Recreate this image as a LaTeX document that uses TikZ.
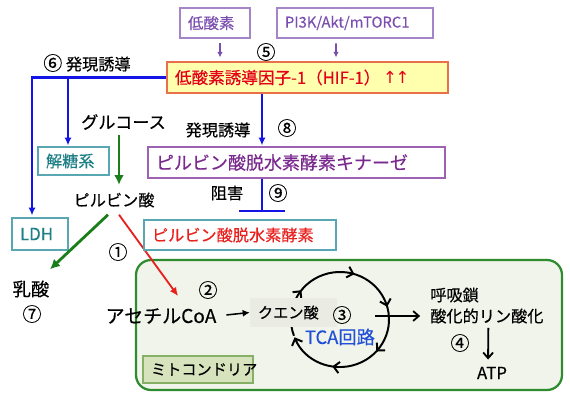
\documentclass[tikz,border=0pt]{standalone}
\usepackage{fontspec}
\setmainfont{Noto Sans CJK JP}[UprightFeatures={FakeBold=0.4}]
\newfontfamily\arrowfont{DejaVu Sans}
\usepackage{tikz}
\usetikzlibrary{arrows.meta,positioning,calc,decorations.markings}
\usepackage{xcolor}
\definecolor{HypPurple}{HTML}{7B4FAF}
\definecolor{HypEdge}{HTML}{A385C8}
\definecolor{KinPurple}{HTML}{7A2A8E}
\definecolor{KinEdge}{HTML}{9E62B4}
\definecolor{HIFRed}{HTML}{E5001A}
\definecolor{HIFEdge}{HTML}{E8704A}
\definecolor{HIFFill}{HTML}{FFFFAE}
\definecolor{InduceBlue}{HTML}{1414E6}
\definecolor{TealText}{HTML}{1F7F86}
\definecolor{TealEdge}{HTML}{5AA7B4}
\definecolor{PathGreen}{HTML}{1A7F1A}
\definecolor{PathRed}{HTML}{E8201E}
\definecolor{MitoEdge}{HTML}{2E8B2E}
\definecolor{MitoFill}{HTML}{F1F4EA}
\definecolor{MitoTag}{HTML}{D6E3BC}
\definecolor{MitoTagEdge}{HTML}{86B066}
\definecolor{CitFill}{HTML}{EAECE4}
\definecolor{TCABlue}{HTML}{2050D8}
\newcommand{\fsz}[1]{\fontsize{#1}{#1}\selectfont}

\begin{document}
\begin{tikzpicture}[x=0.025cm,y=-0.025cm,
    box/.style={draw,rectangle,inner xsep=0.2cm,inner ysep=0pt,align=left},
    hbox/.style={box,draw=HypEdge,line width=0.8pt,text=HypPurple,font=\fsz{11},minimum height=0.75cm},
    tbox/.style={box,draw=TealEdge,line width=0.8pt,minimum height=0.75cm},
    txt/.style={inner sep=0pt,font=\fsz{11.5}},
    num/.style={inner sep=0pt,font=\fsz{13.5}},
    parr/.style={draw=HypPurple,line width=1.1pt,-{Latex[length=4pt,width=4pt]}},
    barr/.style={draw=InduceBlue,line width=1.5pt,-{Latex[length=5.5pt,width=5pt]}},
    garr/.style={draw=PathGreen,line width=2pt,-{Latex[length=7pt,width=7pt]}},
    rarr/.style={draw=PathRed,line width=1.3pt,-{Latex[length=6pt,width=5.5pt]}},
    karr/.style={draw=black,line width=1.3pt,-{Straight Barb[length=4pt,width=7pt]}},
    cyc/.style={draw=black,line width=1.4pt}]
  \useasboundingbox (0,0) rectangle (570,400);
  % mitochondria
  \draw[draw=MitoEdge,fill=MitoFill,line width=1.6pt,rounded corners=0.375cm] (136,260) rectangle (562,390);
  \node[box,draw=MitoTagEdge,fill=MitoTag,line width=0.8pt,text width=2.35cm,minimum height=0.675cm,font=\fsz{10.8}] (mitotag) at (198,369.5) {ミトコンドリア};
  % upstream
  \node[hbox,text width=1.35cm] (hypoxia) at (215,23) {低酸素};
  \node[hbox,text width=3.5cm,font=\fsz{10.5}] (pik) at (355,23) {PI3K/Akt/mTORC1};
  \node[box,draw=HIFEdge,fill=HIFFill,line width=0.9pt,text=HIFRed,text width=6.625cm,minimum height=0.775cm,font=\fsz{11.8}] (hif) at (307.5,77.5) {低酸素誘導因子-1（HIF-1）{\arrowfont\,↑\kern-1pt↑}};
  \node[num] (n5) at (266,52) {⑤};
  \draw[parr,shorten <=3.5pt,shorten >=2.8pt] ($(hypoxia.south)+(5,0)$) -- ($(hif.north)+(-87.5,0)$);
  \draw[parr,shorten <=3.5pt,shorten >=2.8pt] ($(pik.south)+(-19,0)$) -- ($(hif.north)+(28.5,0)$);
  % glycolysis side
  \node[txt] (n6) at (87,63) {{\fsz{13.5}⑥} 発現誘導};
  \node[tbox,text=TealText,text width=1.375cm,minimum height=0.7cm,font=\fsz{11.5}] (glyco) at (73.5,161) {解糖系};
  \node[tbox,text=TealText,text width=1.0cm,minimum height=0.8cm,font=\fsz{12}] (ldh) at (40,234) {LDH};
  \node[txt,font=\fsz{12.2}] (glucose) at (123.5,122) {グルコース};
  \node[txt] (pyruvate) at (114,200) {ピルビン酸};
  \node[txt,font=\fsz{13}] (lactate) at (31,289) {乳酸};
  \node[num] (n7) at (32,314) {⑦};
  \node[num] (n1) at (118,252) {①};
  \node[txt,font=\fsz{13.5}] (acetyl) at (161,316) {アセチルCoA};
  \node[num] (n2) at (208,290) {②};
  \coordinate (fork) at (68,77.5);
  \draw[barr] (hif.west) -| ($(ldh.north)+(-8,-2)$);
  \draw[barr] (fork) -- ($(glyco.north)+(-5.5,-1)$);
  \draw[garr,shorten <=3.5pt,shorten >=1pt] ($(glucose.south)+(-4.5,0)$) -- ($(pyruvate.north)+(5,-6)$);
  \draw[garr] ($(pyruvate.south)+(-6,7)$) -- ($(lactate.north)+(19,-11)$);
  \draw[rarr] ($(pyruvate.south)+(5,7)$) -- ($(acetyl.north)+(17,-12)$);
  % kinase
  \node[txt] (induce) at (218,130) {発現誘導};
  \node[num] (n8) at (287,128) {⑧};
  \node[box,draw=KinEdge,line width=0.8pt,text=KinPurple,text width=7.025cm,minimum height=0.775cm,font=\fsz{12.8}] (pdk) at (296.5,162.5) {ピルビン酸脱水素酵素キナーゼ};
  \node[txt] (inhibit) at (227,193) {阻害};
  \node[num] (n9) at (278,193) {⑨};
  \node[tbox,text=PathRed,text width=4.4cm,font=\fsz{11.5}] (pdh) at (240,235) {ピルビン酸脱水素酵素};
  \coordinate (pdhblock) at (262,212);
  \draw[barr] ($(hif.south)+(-45.5,0)$) -- ($(pdk.north)+(-34.5,-1)$);
  \draw[draw=InduceBlue,line width=1.5pt,-{Bar[width=33pt,line width=1.5pt]}] ($(pdk.south)+(-34.5,0)$) -- (pdhblock);
  % TCA cycle
  \coordinate (tca) at (340,319.5);
  \draw[cyc,-{Straight Barb[length=4pt,width=8pt]},postaction={decorate},
    decoration={markings,
      mark=at position 0.16 with {\arrow{Straight Barb[length=4pt,width=8pt]}},
      mark=at position 0.355 with {\arrow{Straight Barb[length=4pt,width=8pt]}},
      mark=at position 0.515 with {\arrow{Straight Barb[length=4pt,width=8pt]}},
      mark=at position 0.675 with {\arrow{Straight Barb[length=4pt,width=8pt]}},
      mark=at position 0.835 with {\arrow{Straight Barb[length=4pt,width=8pt]}}}]
    (tca) ++(200:1.225cm and 1.1875cm) arc[start angle=200,end angle=-158,x radius=1.225cm,y radius=1.1875cm];
  \node[box,draw=none,fill=CitFill,text width=1.775cm,minimum height=0.725cm,font=\fsz{10.8}] (citrate) at (293.5,312.5) {クエン酸};
  \node[num] (n3) at (342,315) {③};
  \node[txt,text=TCABlue,font=\fsz{13}] (tcalbl) at (340,337) {TCA回路};
  \draw[karr,-{Latex[length=5pt,width=5pt]},line width=1.1pt,shorten <=7pt] (acetyl.east) -- (citrate.west);
  % respiratory chain
  \node[txt,anchor=west] (resp) at (430,295) {呼吸鎖};
  \node[txt,anchor=west] (oxphos) at (430,316) {酸化的リン酸化};
  \node[num] (n4) at (460,343) {④};
  \node[txt,font=\fsz{12}] (atp) at (492,373) {ATP};
  \coordinate (tcaout) at ($(tca)+(35,0)$);
  \draw[karr,shorten >=7pt] (tcaout |- oxphos.west) -- (oxphos.west);
  \draw[karr,shorten <=3pt,shorten >=5pt] ($(oxphos.south)+(1.5,0)$) -- ($(atp.north)+(-4,0)$);
\end{tikzpicture}
\end{document}
